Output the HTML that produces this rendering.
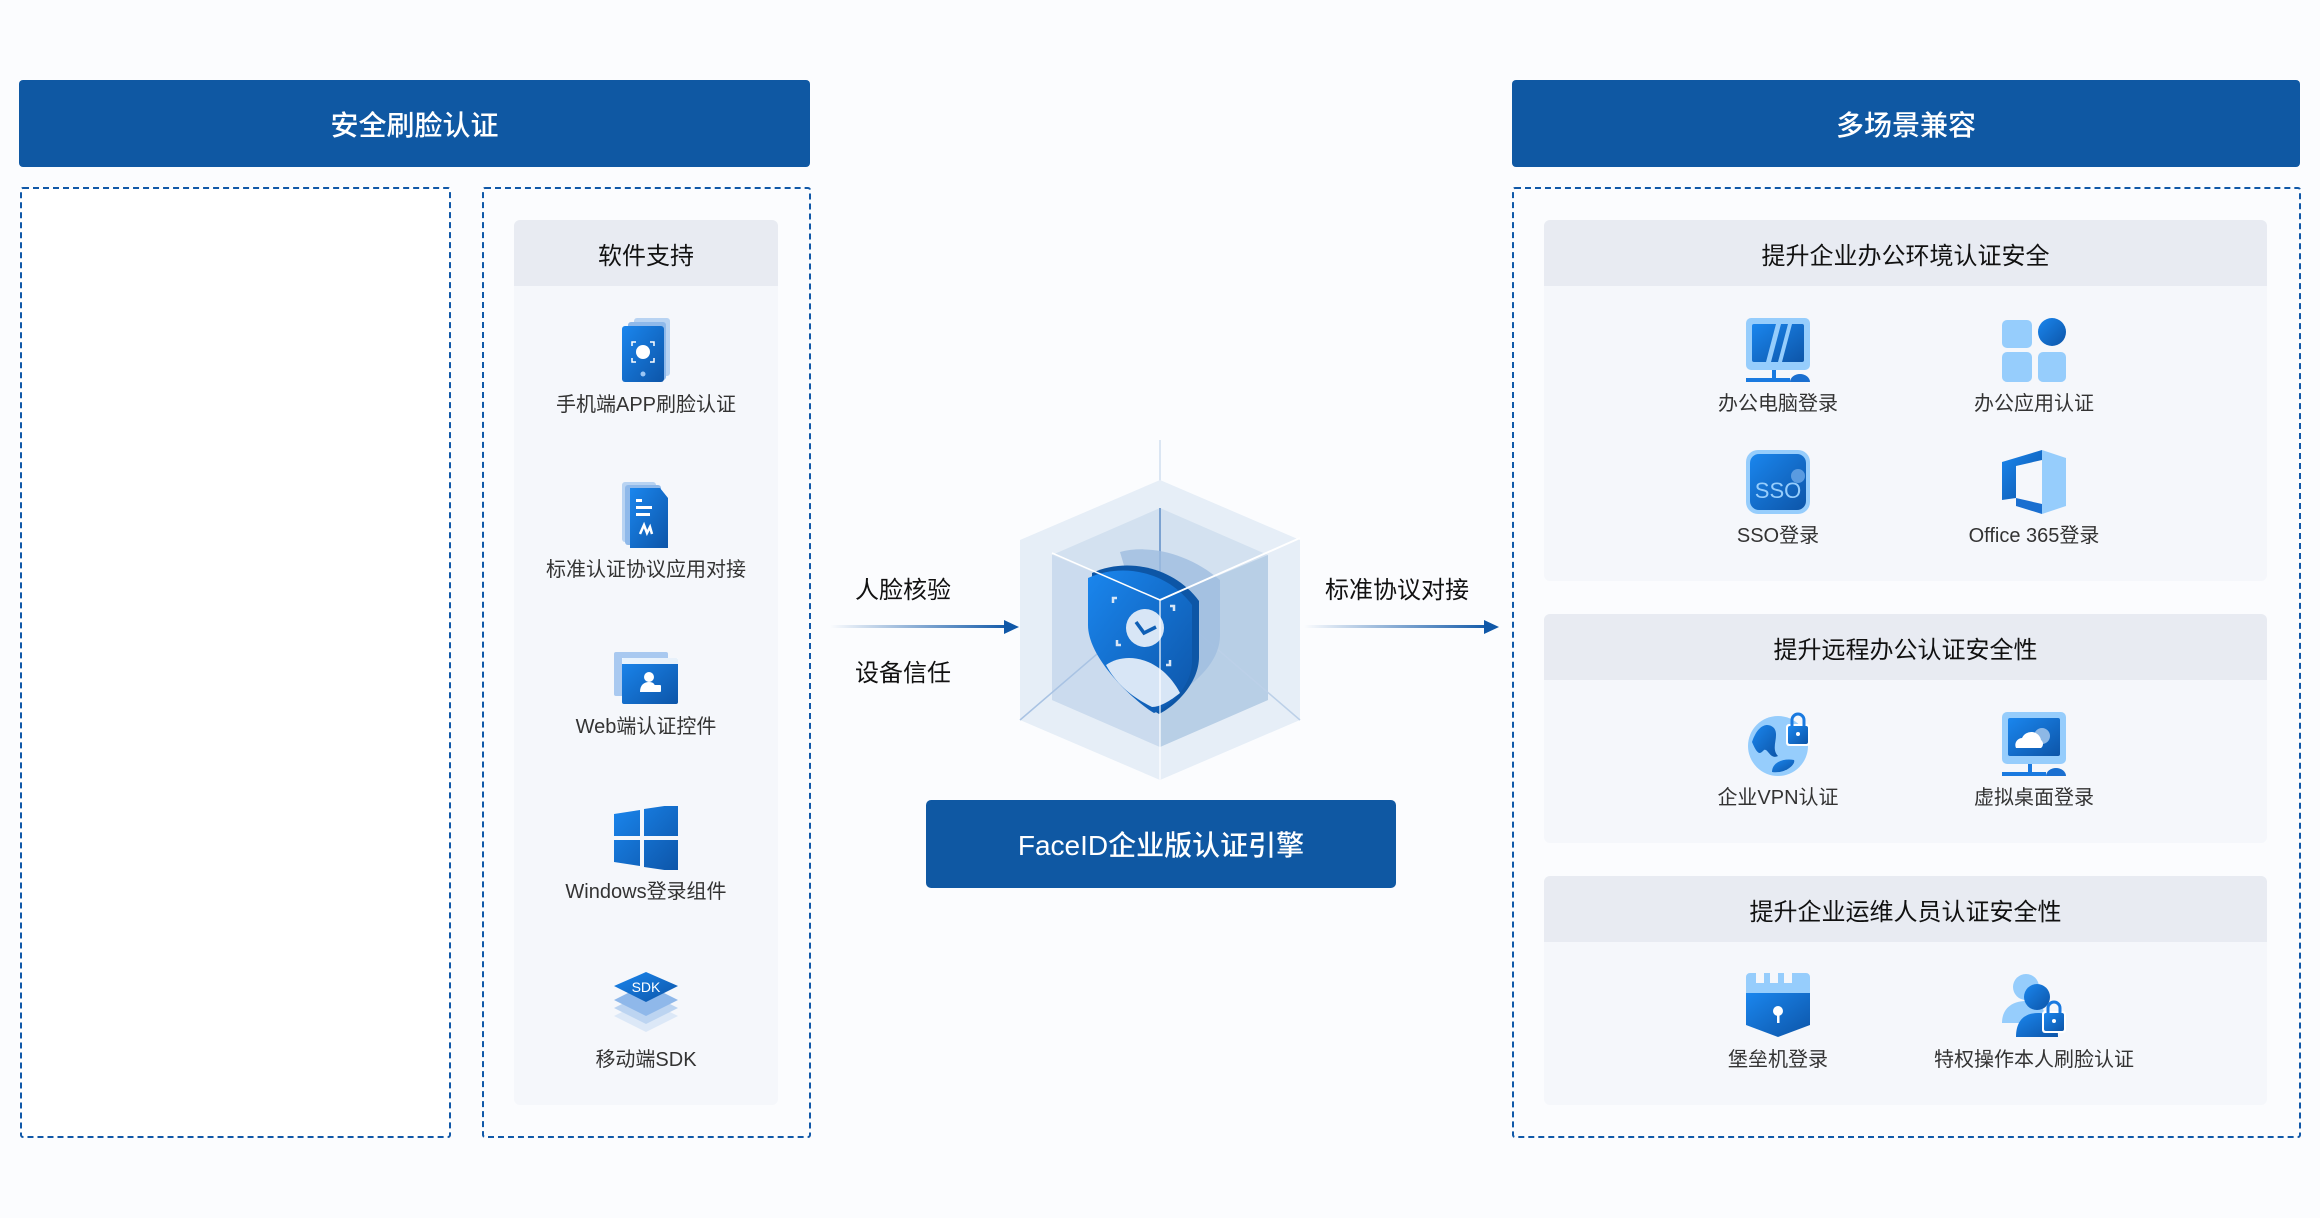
<!DOCTYPE html>
<html><head><meta charset="utf-8"><style>
*{margin:0;padding:0;box-sizing:border-box}
body{width:2320px;height:1218px;background:#fbfcfe;position:relative;overflow:hidden;font-family:"Liberation Sans","Noto Sans CJK SC",sans-serif;color:#222}
.a{position:absolute}
.hdr{background:#0f58a3;color:#fff;font-size:28px;display:flex;align-items:center;justify-content:center;border-radius:4px;font-weight:500}
.dash{border:2.5px dashed #1058a8;border-radius:3px}
.panel{background:#f5f7fb;border-radius:6px;overflow:hidden}
.ph{height:66px;background:#e8ebf2;display:flex;align-items:center;justify-content:center;font-size:24px;color:#111}
.lbl{font-size:20px;color:#333;white-space:nowrap;transform:translateX(-50%);line-height:24px;text-align:center}
.ic{transform:translateX(-50%)}
.t{font-size:24px;color:#111;white-space:nowrap}
.arr{height:3px;background:linear-gradient(90deg,rgba(16,88,168,0),#1058a8)}
</style></head><body>
<svg width="0" height="0" style="position:absolute"><defs>
<linearGradient id="g" x1="0" y1="0" x2="1" y2="1"><stop offset="0" stop-color="#1a86ee"/><stop offset="1" stop-color="#0d55a8"/></linearGradient>
</defs></svg>

<div class="a hdr" style="left:19px;top:80px;width:791px;height:87px">安全刷脸认证</div>
<div class="a hdr" style="left:1512px;top:80px;width:788px;height:87px">多场景兼容</div>

<div class="a dash" style="left:20px;top:187px;width:431px;height:951px;background:#fff"></div>
<div class="a dash" style="left:482px;top:187px;width:329px;height:951px"></div>
<div class="a dash" style="left:1512px;top:187px;width:789px;height:951px"></div>

<div class="a panel" style="left:514px;top:220px;width:264px;height:885px"><div class="ph">软件支持</div></div>

<svg class="a ic" style="left:647px;top:318px" width="50" height="64" viewBox="0 0 50 64"><rect x="12" y="0" width="36" height="58" rx="3" fill="#b8d3f2"/><rect x="6" y="4" width="38" height="58" rx="3" fill="#8fb9ea"/><rect x="0" y="8" width="42" height="56" rx="3" fill="url(#g)"/><circle cx="21" cy="34" r="7" fill="#fff"/><path d="M10 28v-4h4M28 24h4v4M10 40v4h4M28 44h4v-4" stroke="#fff" stroke-width="1.5" fill="none"/><circle cx="21" cy="56" r="2.5" fill="#9cc6f4"/></svg>
<div class="a lbl" style="left:646px;top:393px">手机端APP刷脸认证</div>

<svg class="a ic" style="left:647px;top:482px" width="50" height="66" viewBox="0 0 50 66"><rect x="0" y="0" width="34" height="60" rx="3" fill="#b8d3f2"/><rect x="3" y="3" width="36" height="60" rx="3" fill="#8fb9ea"/><path d="M8 6h30l8 10v50H8z" fill="url(#g)"/><rect x="14" y="17" width="6" height="3" fill="#fff"/><rect x="14" y="24" width="16" height="3" fill="#fff"/><rect x="14" y="31" width="14" height="3" fill="#fff"/><path d="M18 52l4-9 3 8 3-6 2 7" stroke="#fff" stroke-width="2.5" fill="none"/></svg>
<div class="a lbl" style="left:646px;top:558px">标准认证协议应用对接</div>

<svg class="a ic" style="left:646px;top:652px" width="64" height="52" viewBox="0 0 64 52"><rect x="0" y="0" width="54" height="44" rx="2" fill="#a9c9f0"/><rect x="8" y="6" width="56" height="46" rx="2" fill="url(#g)"/><rect x="8" y="6" width="56" height="6" fill="#fff" opacity=".9"/><circle cx="35" cy="25" r="5" fill="#fff"/><path d="M26 40c0-7 4-10 9-10s6 3 6 5v5z" fill="#fff"/><rect x="39" y="33" width="8" height="7" rx="1" fill="#fff"/></svg>
<div class="a lbl" style="left:646px;top:715px">Web端认证控件</div>

<svg class="a ic" style="left:646px;top:806px" width="64" height="64" viewBox="0 0 64 64"><path d="M0 8l26-4v26H0zM30 3l34-5v32H30zM0 34h26v26L0 56zM30 34h34v32l-34-5z" fill="url(#g)"/></svg>
<div class="a lbl" style="left:646px;top:880px">Windows登录组件</div>

<svg class="a ic" style="left:646px;top:972px" width="64" height="60" viewBox="0 0 64 60"><path d="M32 28l32 16-32 16L0 44z" fill="#dce8f7"/><path d="M32 20l32 16-32 16L0 36z" fill="#bcd4f1"/><path d="M32 12l32 16-32 16L0 28z" fill="#8fb8ea"/><path d="M32 0l32 14-32 16L0 14z" fill="url(#g)"/><text x="32" y="20" font-size="14" fill="#fff" text-anchor="middle" font-family="Liberation Sans">SDK</text></svg>
<div class="a lbl" style="left:646px;top:1048px">移动端SDK</div>

<svg class="a" style="left:960px;top:440px" width="400" height="360" viewBox="960 440 400 360">
<line x1="1160" y1="440" x2="1160" y2="780" stroke="#dbe6f3" stroke-width="2"/>
<polygon points="1160,480 1300,540 1300,720 1160,780 1020,720 1020,540" fill="#e6eef7"/>
<polygon points="1160,508 1268,555 1268,700 1160,747 1052,700 1052,555" fill="#d3e1f0"/>
<polygon points="1160,600 1268,555 1268,700 1160,747" fill="#b8cfe6"/>
<polygon points="1160,600 1052,555 1052,700 1160,747" fill="#cbdbee"/>
<line x1="1160" y1="508" x2="1160" y2="600" stroke="#7ba2d1" stroke-width="2"/>
<line x1="1160" y1="600" x2="1020" y2="720" stroke="#a9c3e3" stroke-width="1.5"/>
<line x1="1160" y1="600" x2="1300" y2="720" stroke="#bcd0e8" stroke-width="1.5"/>
<path d="M1120 552c30-8 70 2 100 28v55c0 30-30 50-40 58l-30-40z" fill="#9fbde0" opacity=".8"/>
<path d="M1092 573c35-16 82-6 107 28v56c0 25-22 48-40 57-18-10-67-55-67-90z" fill="#0d56a6"/>
<path d="M1088 578c35-16 80-6 104 27v56c0 25-22 46-38 52-20-12-66-54-66-88z" fill="url(#g)"/>
<circle cx="1145" cy="628" r="19" fill="#d8e6f6"/>
<path d="M1136 622l8 11 12-6" stroke="#0f5fb5" stroke-width="3.5" fill="none"/>
<path d="M1106 665c20-14 55-8 74 28-10 8-20 14-28 14-20-10-35-22-46-42z" fill="#d8e6f6"/>
<path d="M1117 598h-4v5M1170 606h4v5M1117 640v5h4M1170 660v5h-4" stroke="#d8e6f6" stroke-width="2.5" fill="none"/>
<line x1="1160" y1="600" x2="1300" y2="538" stroke="#fff" stroke-width="2"/>
<line x1="1160" y1="600" x2="1052" y2="553" stroke="#fff" stroke-width="1.5"/>
<line x1="1160" y1="600" x2="1160" y2="780" stroke="#fff" stroke-width="1.5" opacity=".8"/>
</svg>

<div class="a arr" style="left:830px;top:625px;width:180px"></div>
<svg class="a" style="left:1004px;top:617px" width="16" height="20"><path d="M0 3l15 7-15 7z" fill="#1058a8"/></svg>
<div class="a arr" style="left:1304px;top:625px;width:186px"></div>
<svg class="a" style="left:1484px;top:617px" width="16" height="20"><path d="M0 3l15 7-15 7z" fill="#1058a8"/></svg>
<div class="a t" style="left:855px;top:570px">人脸核验</div>
<div class="a t" style="left:855px;top:653px">设备信任</div>
<div class="a t" style="left:1325px;top:570px">标准协议对接</div>

<div class="a hdr" style="left:926px;top:800px;width:470px;height:88px;border-radius:5px">FaceID企业版认证引擎</div>

<div class="a panel" style="left:1544px;top:220px;width:723px;height:361px"><div class="ph">提升企业办公环境认证安全</div></div>
<div class="a panel" style="left:1544px;top:614px;width:723px;height:229px"><div class="ph">提升远程办公认证安全性</div></div>
<div class="a panel" style="left:1544px;top:876px;width:723px;height:229px"><div class="ph">提升企业运维人员认证安全性</div></div>

<svg class="a ic" style="left:1778px;top:318px" width="64" height="64" viewBox="0 0 64 64"><rect x="0" y="0" width="64" height="52" rx="5" fill="#96cdfc"/><rect x="6" y="6" width="52" height="38" rx="2" fill="url(#g)"/><path d="M20 44l10-38h5L25 44zM32 44l10-38h4L36 44z" fill="#96cdfc"/><rect x="26" y="52" width="4" height="8" fill="#1a7ae0"/><rect x="0" y="60" width="44" height="4" fill="#1a7ae0"/><path d="M44 64a10 8 0 0 1 20 0z" fill="#1a6fd0"/></svg>
<div class="a lbl" style="left:1778px;top:392px">办公电脑登录</div>
<svg class="a ic" style="left:2034px;top:318px" width="64" height="64" viewBox="0 0 64 64"><rect x="0" y="2" width="30" height="28" rx="5" fill="#96cdfc"/><rect x="0" y="34" width="30" height="30" rx="5" fill="#96cdfc"/><rect x="36" y="34" width="28" height="30" rx="5" fill="#96cdfc"/><circle cx="50" cy="14" r="14" fill="url(#g)"/></svg>
<div class="a lbl" style="left:2034px;top:392px">办公应用认证</div>
<svg class="a ic" style="left:1778px;top:450px" width="64" height="64" viewBox="0 0 64 64"><rect x="0" y="0" width="64" height="64" rx="12" fill="#96cdfc"/><rect x="4" y="4" width="56" height="56" rx="9" fill="url(#g)"/><circle cx="52" cy="26" r="7" fill="#5a9be0"/><text x="32" y="48" font-size="22" fill="#96cdfc" text-anchor="middle" font-family="Liberation Sans">SSO</text></svg>
<div class="a lbl" style="left:1778px;top:524px">SSO登录</div>
<svg class="a ic" style="left:2034px;top:450px" width="64" height="64" viewBox="0 0 64 64"><path d="M40 0l24 8v48l-24 8z" fill="#96cdfc"/><path d="M40 0v10L14 16v32L0 50V12z" fill="url(#g)"/><path d="M14 48l26 6v10L14 56z" fill="#1a6fd0"/></svg>
<div class="a lbl" style="left:2034px;top:524px">Office 365登录</div>

<svg class="a ic" style="left:1778px;top:712px" width="64" height="64" viewBox="0 0 64 64"><circle cx="32" cy="34" r="30" fill="#96cdfc"/><path d="M6 30c6-18 16-20 22-14 6 8-4 20 4 28-8 4-10-8-14-6-4 4-6 6-12-8z" fill="url(#g)"/><path d="M26 60c0-10 12-14 22-12 2 4-8 14-22 12z" fill="url(#g)"/><rect x="40" y="12" width="24" height="22" rx="3" fill="#fff"/><rect x="42" y="14" width="20" height="18" rx="2" fill="url(#g)"/><path d="M46 14v-6a6 6 0 0 1 12 0v6" stroke="#1a7ae0" stroke-width="3" fill="none"/><circle cx="52" cy="22" r="2" fill="#fff"/></svg>
<div class="a lbl" style="left:1778px;top:786px">企业VPN认证</div>
<svg class="a ic" style="left:2034px;top:712px" width="64" height="64" viewBox="0 0 64 64"><rect x="0" y="0" width="64" height="52" rx="5" fill="#96cdfc"/><rect x="6" y="6" width="52" height="38" rx="2" fill="url(#g)"/><circle cx="40" cy="24" r="8" fill="#8db8e6"/><path d="M14 36a7 7 0 0 1 6-10a10 10 0 0 1 19 2a5 5 0 0 1 0 8z" fill="#fff"/><rect x="26" y="52" width="4" height="8" fill="#1a7ae0"/><rect x="0" y="60" width="44" height="4" fill="#1a7ae0"/><path d="M44 64a10 8 0 0 1 20 0z" fill="#1a6fd0"/></svg>
<div class="a lbl" style="left:2034px;top:786px">虚拟桌面登录</div>

<svg class="a ic" style="left:1778px;top:973px" width="64" height="64" viewBox="0 0 64 64"><path d="M0 4a4 4 0 0 1 4-4h6v10h8V0h6v10h8V0h6v10h8V0h6v10V0h8a4 4 0 0 1 4 4v16H0z" fill="#96cdfc"/><path d="M0 20h64v32L32 64 0 52z" fill="url(#g)"/><circle cx="32" cy="38" r="5" fill="#fff"/><rect x="31" y="40" width="2.5" height="10" fill="#fff"/></svg>
<div class="a lbl" style="left:1778px;top:1048px">堡垒机登录</div>
<svg class="a ic" style="left:2034px;top:973px" width="64" height="64" viewBox="0 0 64 64"><circle cx="24" cy="14" r="13" fill="#96cdfc"/><path d="M0 50c0-16 12-22 24-22s20 6 20 22z" fill="#96cdfc"/><circle cx="35" cy="24" r="13" fill="url(#g)"/><path d="M14 64c0-18 10-24 22-24s20 6 20 24z" fill="url(#g)"/><rect x="40" y="38" width="24" height="22" rx="3" fill="#fff"/><rect x="42" y="40" width="20" height="18" rx="2" fill="url(#g)"/><path d="M46 40v-5a6 6 0 0 1 12 0v5" stroke="#1a7ae0" stroke-width="3" fill="none"/><circle cx="52" cy="48" r="2" fill="#fff"/></svg>
<div class="a lbl" style="left:2034px;top:1048px">特权操作本人刷脸认证</div>
</body></html>
